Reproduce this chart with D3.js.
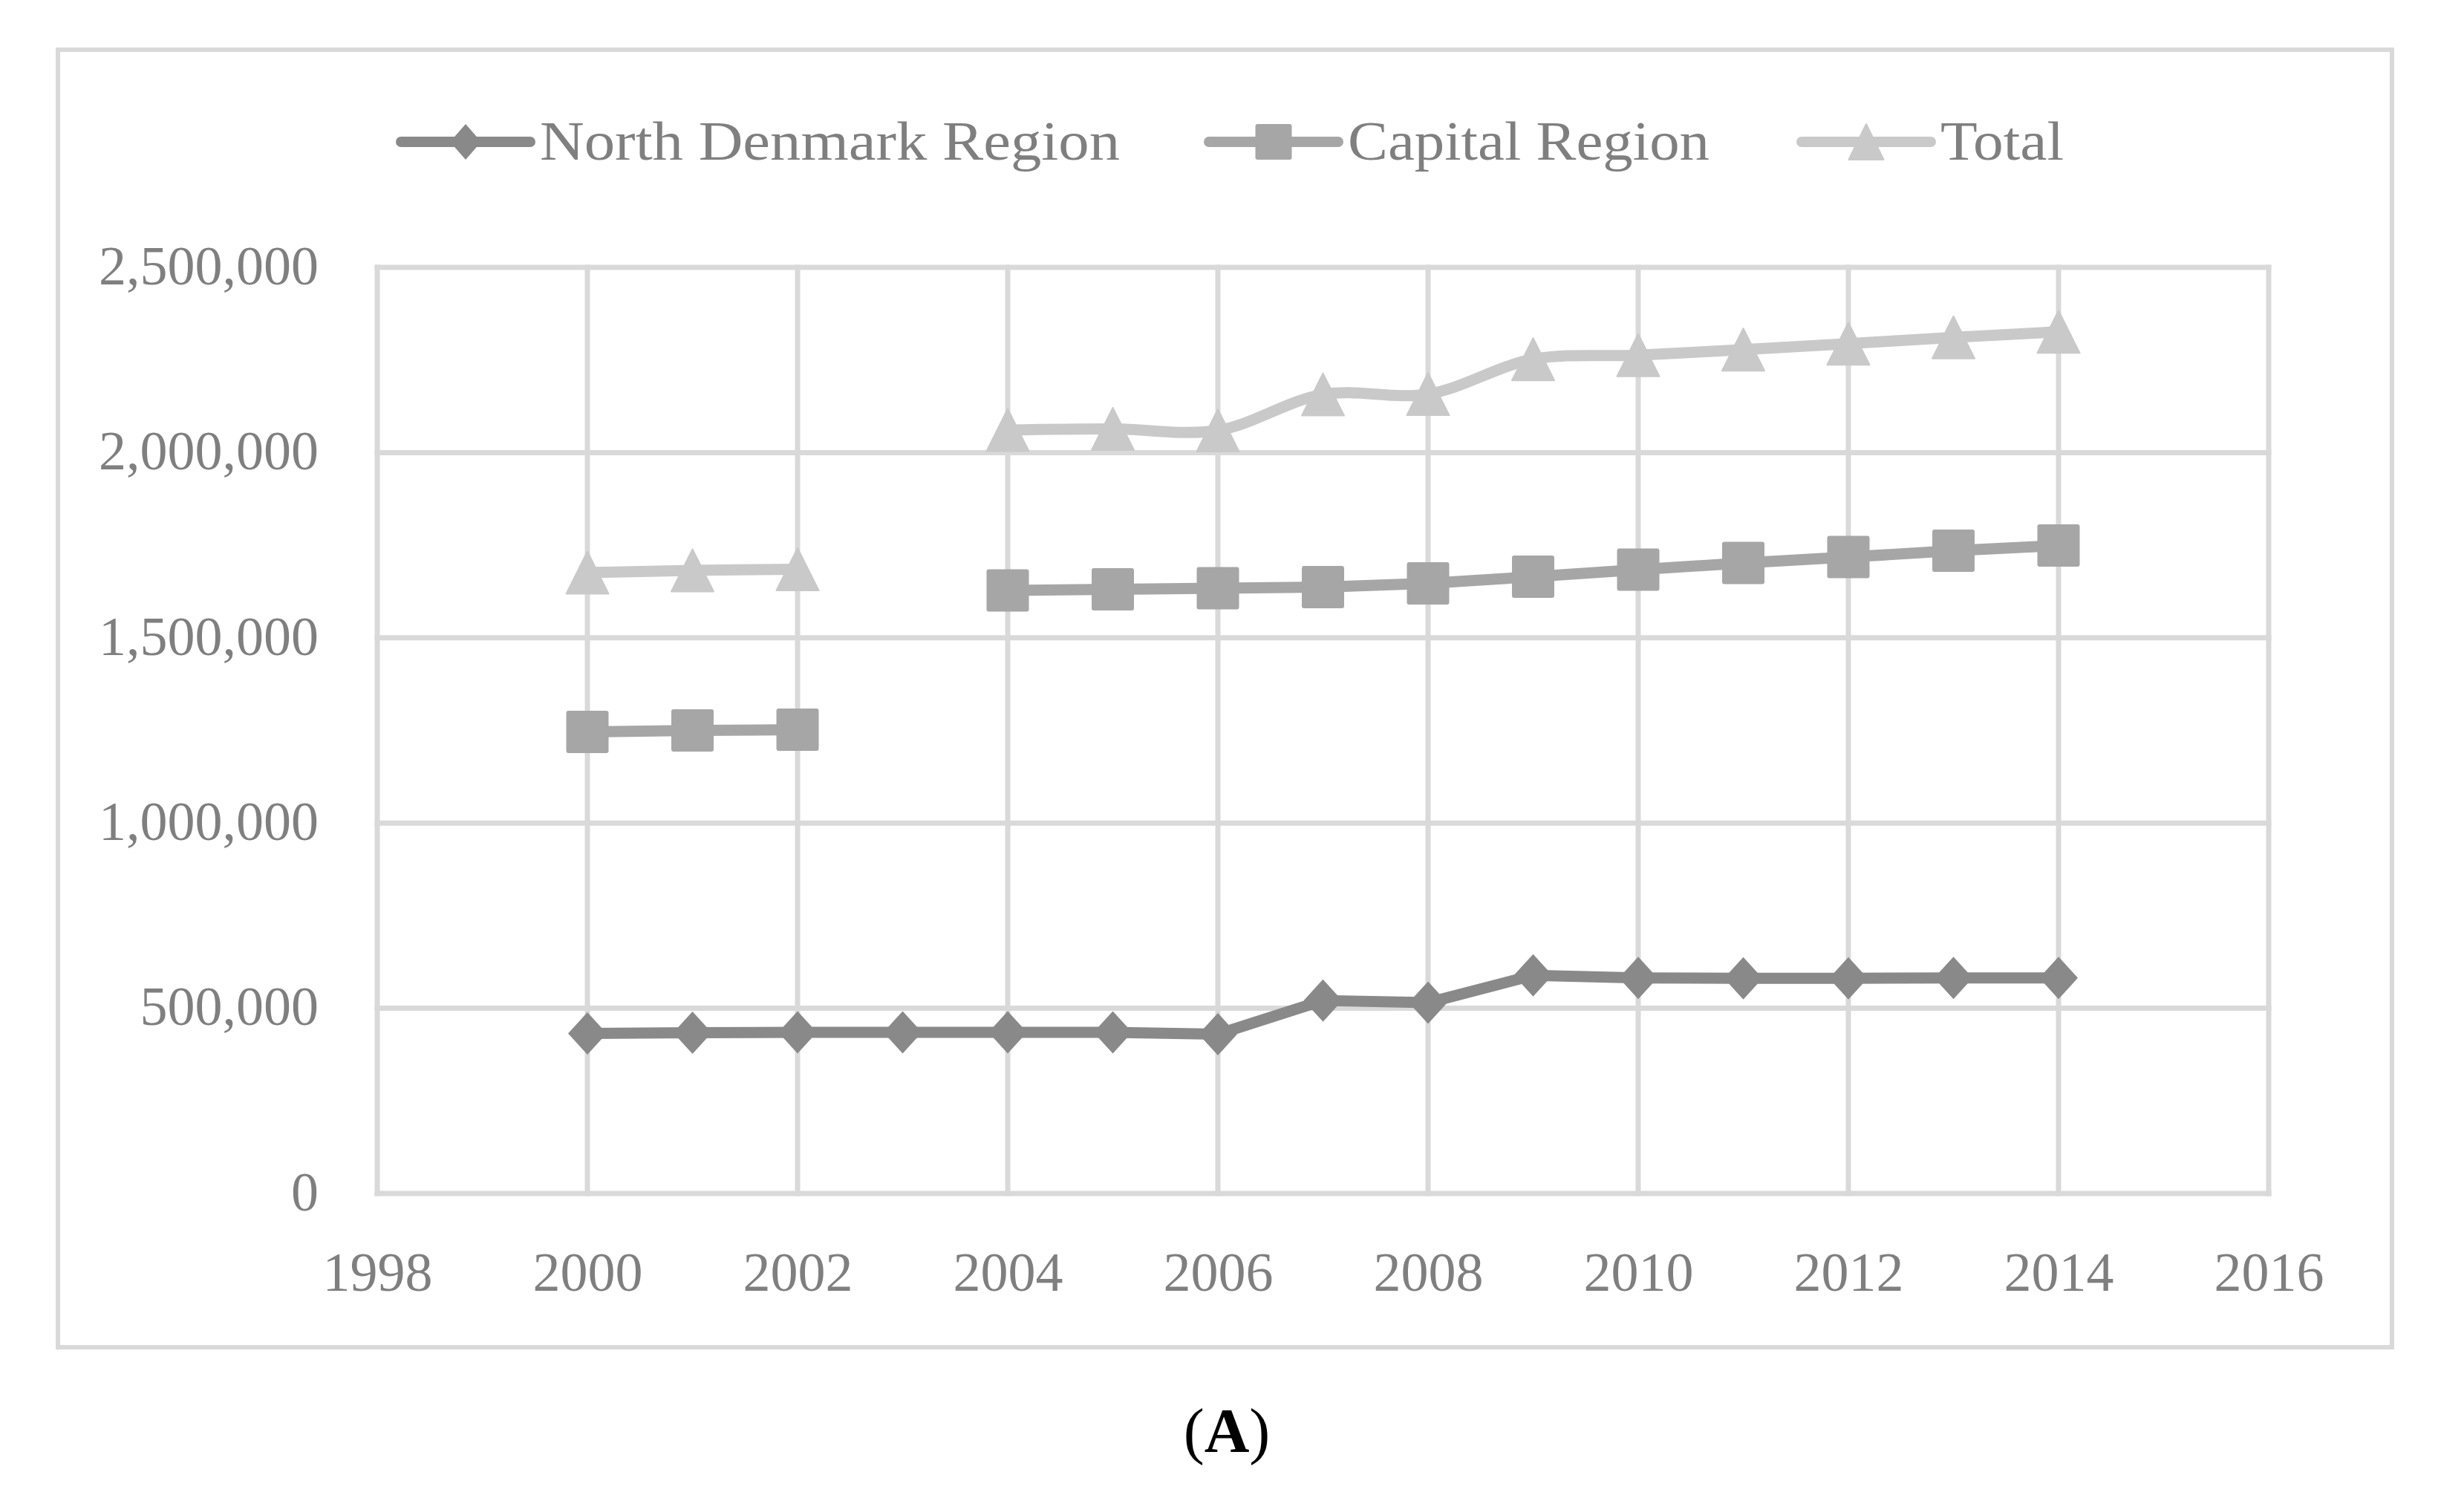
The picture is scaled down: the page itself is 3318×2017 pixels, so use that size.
<!DOCTYPE html>
<html>
<head>
<meta charset="utf-8">
<script src="https://cdn.jsdelivr.net/npm/d3@7"></script>
<style>
  body { margin: 0; background: #fff; }
  text { font-family: 'Liberation Serif', 'Times New Roman', serif; }
</style>
</head>
<body>
<svg id="chart" width="3318" height="2017"></svg>
<script>
// data
const years = [2000, 2001, 2002, 2003, 2004, 2005, 2006, 2007, 2008, 2009, 2010, 2011, 2012, 2013, 2014];
const northDenmark = [432000, 434000, 435000, 435000, 435000, 435000, 430000, 521000, 515000, 589000, 582000, 581000, 581000, 582000, 582000];
const capitalRegion = [1246000, 1250000, 1252000, null, 1628000, 1631000, 1634000, 1637000, 1647000, 1665000, 1684000, 1702000, 1718000, 1735000, 1749000];
const total = [1676000, 1682000, 1685000, null, 2061000, 2064000, 2060000, 2157000, 2158000, 2252000, 2263000, 2278000, 2294000, 2311000, 2326000];
const seriesNames = ['North Denmark Region', 'Capital Region', 'Total'];
const xTicks = [1998, 2000, 2002, 2004, 2006, 2008, 2010, 2012, 2014, 2016];
const yTicks = [0, 500000, 1000000, 1500000, 2000000, 2500000];

const svg = d3.select('#chart');
const grid = '#d9d9d9';
const textColor = '#7f7f7f';

// outer frame
svg.append('rect')
  .attr('x', 78).attr('y', 67)
  .attr('width', 3143).attr('height', 1747)
  .attr('fill', 'none')
  .attr('stroke', grid)
  .attr('stroke-width', 6);

const x = d3.scaleLinear().domain([1998, 2016]).range([508, 3055]);
const y = d3.scaleLinear().domain([0, 2500000]).range([1607, 360]);

// grid
let gGrid = svg.append('g').attr('class', 'grid');
gGrid.selectAll('line.v')
  .data(xTicks)
  .enter().append('line')
  .attr('class', 'v')
  .attr('x1', d => x(d)).attr('x2', d => x(d))
  .attr('y1', y(2500000) - 3.5).attr('y2', y(0) + 3.5)
  .attr('stroke', grid).attr('stroke-width', 7);
gGrid.selectAll('line.h')
  .data(yTicks)
  .enter().append('line')
  .attr('class', 'h')
  .attr('x1', x(1998) - 3.5).attr('x2', x(2016) + 3.5)
  .attr('y1', d => y(d)).attr('y2', d => y(d))
  .attr('stroke', grid).attr('stroke-width', 7);

// axes (labels only, Excel style)
const yAxis = svg.append('g')
  .attr('transform', 'translate(' + 429 + ',0)')
  .call(d3.axisLeft(y).tickValues(yTicks).tickFormat(d3.format(',')).tickSize(0).tickPadding(0));
yAxis.select('.domain').remove();
yAxis.selectAll('text')
  .attr('fill', textColor)
  .style('font-size', '74px')
  .attr('dy', '0.30em');

const xAxis = svg.append('g')
  .attr('transform', 'translate(0,' + 1738 + ')')
  .call(d3.axisBottom(x).tickValues(xTicks).tickFormat(d3.format('d')).tickSize(0).tickPadding(0));
xAxis.select('.domain').remove();
xAxis.selectAll('text')
  .attr('fill', textColor)
  .style('font-size', '74px')
  .attr('dy', 0);

// series
const series = [
  { name: seriesNames[0], values: northDenmark, color: '#898989', symbol: 'diamond', curve: d3.curveLinear },
  { name: seriesNames[1], values: capitalRegion, color: '#a6a6a6', symbol: 'square', curve: d3.curveLinear },
  { name: seriesNames[2], values: total, color: '#c9c9c9', symbol: 'triangle', curve: d3.curveCatmullRom }
];

function marker(sel, type, w, h, color) {
  if (type === 'square') {
    sel.append('rect')
      .attr('x', -w / 2).attr('y', -h / 2)
      .attr('width', w).attr('height', h)
      .attr('rx', 3).attr('ry', 3)
      .attr('fill', color);
  } else if (type === 'diamond') {
    sel.append('path')
      .attr('d', 'M0,' + (-h / 2) + 'L' + (w / 2) + ',0L0,' + (h / 2) + 'L' + (-w / 2) + ',0Z')
      .attr('fill', color);
  } else {
    sel.append('path')
      .attr('d', 'M0,' + (-h / 2) + 'L' + (w / 2) + ',' + (h / 2) + 'L' + (-w / 2) + ',' + (h / 2) + 'Z')
      .attr('fill', color)
      .attr('stroke', color).attr('stroke-width', 2).attr('stroke-linejoin', 'round');
  }
}

// draw total first so darker series sit on top
series.slice().reverse().forEach(s => {
  const pts = years.map((yr, i) => ({ year: yr, value: s.values[i] }));
  const line = d3.line()
    .defined(d => d.value !== null)
    .x(d => x(d.year))
    .y(d => y(d.value))
    .curve(s.curve);

  svg.append('path')
    .datum(pts)
    .attr('d', line)
    .attr('fill', 'none')
    .attr('stroke', s.color)
    .attr('stroke-width', 15)
    .attr('stroke-linejoin', 'round');

  svg.append('g').selectAll('g')
    .data(pts.filter(d => d.value !== null))
    .enter().append('g')
    .attr('transform', d => 'translate(' + x(d.year) + ',' + y(d.value) + ')')
    .each(function () {
      marker(d3.select(this), s.symbol, s.symbol === 'diamond' ? 52 : 57, 57, s.color);
    });
});

// legend
const legendX = [540, 1628, 2426];
const legendTextW = [781, 487, 166];
const legend = svg.append('g').attr('class', 'legend');
series.forEach((s, i) => {
  const g = legend.append('g').attr('transform', 'translate(' + legendX[i] + ',' + 191 + ')');
  g.append('line')
    .attr('x1', 0).attr('x2', 174)
    .attr('stroke', s.color)
    .attr('stroke-width', 14)
    .attr('stroke-linecap', 'round');
  const m = g.append('g').attr('transform', 'translate(87,0)');
  marker(m, s.symbol, s.symbol === 'diamond' ? 42 : (s.symbol === 'square' ? 49 : 47), 48, s.color);
  g.append('text')
    .attr('x', 187)
    .attr('y', 24)
    .attr('fill', textColor)
    .style('font-size', '74px')
    .attr('textLength', legendTextW[i])
    .attr('lengthAdjust', 'spacingAndGlyphs')
    .text(s.name);
});

// panel label
const lab = svg.append('text')
  .attr('x', 1652)
  .attr('y', 1955)
  .attr('text-anchor', 'middle')
  .attr('fill', '#000')
  .style('font-size', '84px');
lab.append('tspan').text('(');
lab.append('tspan').attr('font-weight', 'bold').text('A');
lab.append('tspan').text(')');
</script>
</body>
</html>
